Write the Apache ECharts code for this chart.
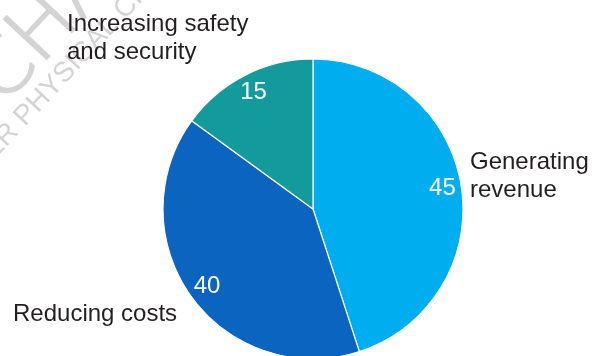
<!DOCTYPE html>
<html>
<head>
<meta charset="utf-8">
<script src="https://cdn.jsdelivr.net/npm/echarts@6/dist/echarts.min.js"></script>
<style>
  html, body { margin: 0; padding: 0; background: #fff; }
  #chart-container { width: 600px; height: 356px; }
</style>
</head>
<body>
<div id="chart-container"></div>
<script>
// slice names and values, clockwise from 12 o'clock
const categories = ['Generating\nrevenue', 'Reducing costs', 'Increasing safety\nand security'];
const values = [45, 40, 15];
const colors = ['#00aeef', '#0b64c0', '#139a9c'];
// where each category label sits (left x, middle y)
const labelSpots = [[470, 176], [13, 314], [67, 38]];

(function () {
    const chartDom = document.getElementById('chart-container');
    const myChart = echarts.init(chartDom, null, { renderer: 'canvas' });

    const pieCenter = [313, 209];
    const font = 'Liberation Sans, Arial, sans-serif';

    const sliceData = categories.map((name, i) => ({
        name: name,
        value: values[i],
        itemStyle: { color: colors[i] }
    }));

    const option = {
        animation: false,
        backgroundColor: '#fff',
        graphic: {
            elements: [
                // faint watermark behind the chart
                {
                    type: 'text', x: 16, y: 120, rotation: 0.82, z: -10,
                    style: { text: 'CHA', fontSize: 80, fontFamily: 'DejaVu Sans', fontWeight: 200,
                             fill: '#d4d4d4', stroke: '#d4d4d4', lineWidth: 2,
                             textVerticalAlign: 'bottom' }
                },
                {
                    type: 'text', x: -14, y: 178, rotation: 0.82, z: -10,
                    style: { text: 'TER PHYSICAL CH', fontSize: 28, fontFamily: font,
                             fill: '#d4d4d4', textVerticalAlign: 'bottom' }
                }
            ]
        },
        series: [
            {
                type: 'pie',
                center: pieCenter,
                radius: 150,
                startAngle: 90,
                clockwise: true,
                silent: true,
                itemStyle: { borderColor: '#fff', borderWidth: 1.2 },
                label: {
                    show: true,
                    position: 'outside',
                    alignTo: 'none',
                    overflow: 'none',
                    width: 300,
                    formatter: '{b}',
                    color: '#231f20',
                    fontSize: 24,
                    lineHeight: 28,
                    fontFamily: font
                },
                labelLine: { show: false },
                labelLayout: function (params) {
                    const p = labelSpots[params.dataIndex];
                    return { x: p[0], y: p[1], align: 'left', verticalAlign: 'middle' };
                },
                data: sliceData
            },
            {
                // value labels placed inside near the rim
                type: 'pie',
                center: pieCenter,
                radius: [106, 150],
                startAngle: 90,
                clockwise: true,
                silent: true,
                itemStyle: { color: 'transparent', borderWidth: 0 },
                label: {
                    show: true,
                    position: 'inside',
                    formatter: '{c}',
                    color: '#fff',
                    fontSize: 24,
                    fontFamily: font
                },
                labelLine: { show: false },
                data: categories.map((name, i) => ({ name: name, value: values[i] }))
            }
        ]
    };
    myChart.setOption(option);
}());
</script>
</body>
</html>
